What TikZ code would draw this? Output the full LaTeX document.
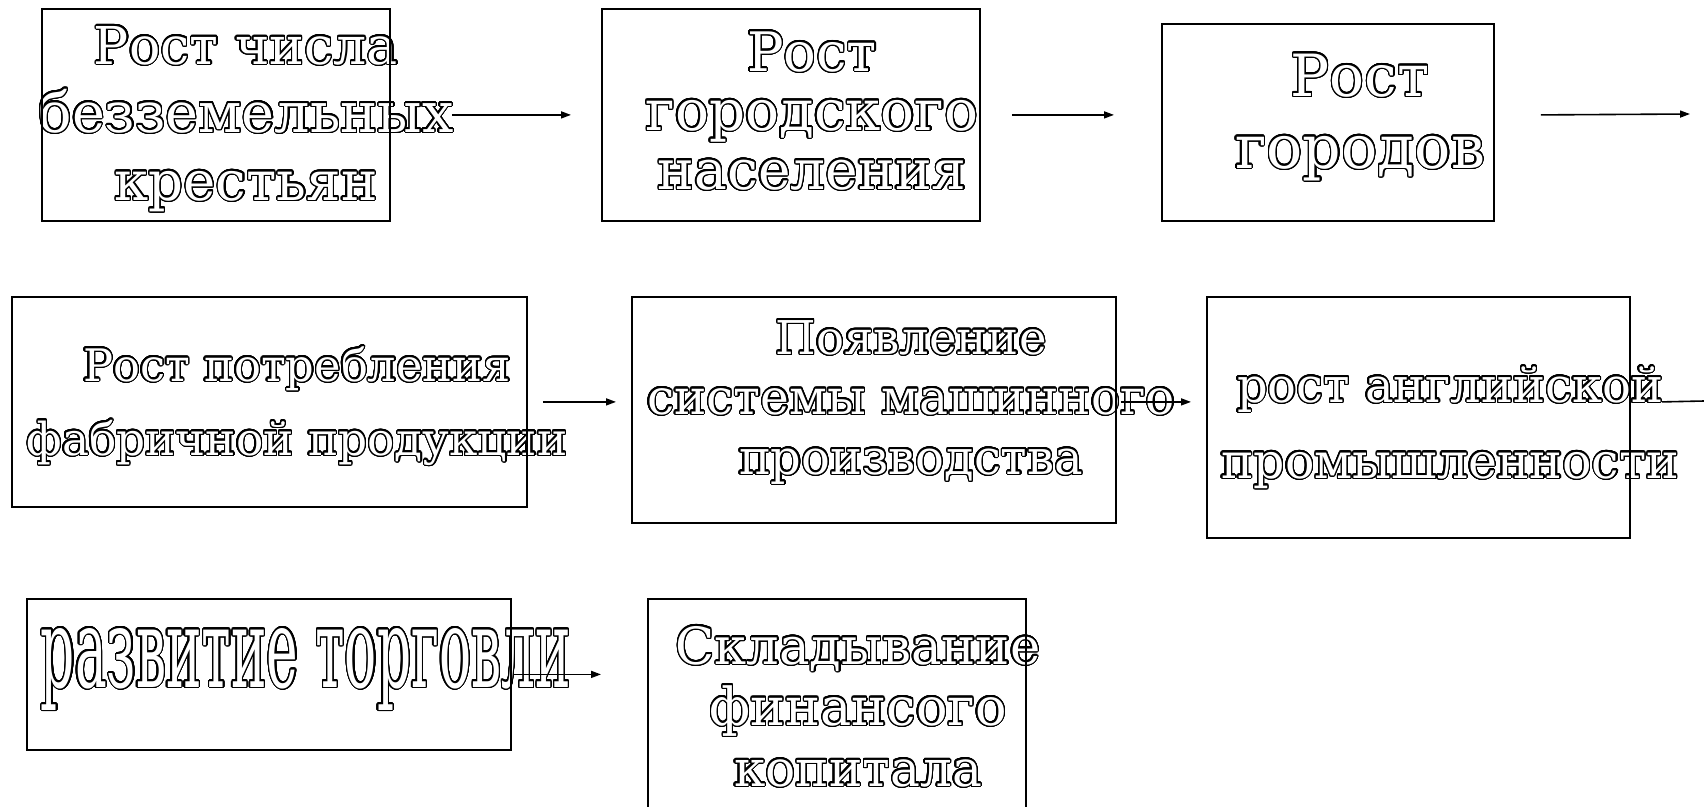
\documentclass[tikz,border=0pt]{standalone}
\usepackage{fontspec}
\setmainfont{DejaVu Serif}
\usepackage[copies]{contour}
\usepackage{graphicx}
\usetikzlibrary{arrows.meta}
\contourlength{1.3pt}
\contournumber{32}
\newcommand\olstack[2]{\vtop{\baselineskip=#1\lineskiplimit=-1000pt\lineskip=0pt\halign{\hfil##\hfil\cr#2\crcr}}}
\newcommand\olw[2]{\contour{black}{\resizebox{#1}{!}{#2}}}
\begin{document}
\begin{tikzpicture}[x=1pt,y=-1pt,
  box/.style={draw,line width=1.8pt,inner sep=0pt,anchor=north west},
  txt/.style={anchor=base,inner sep=0pt,text=white,font=\fontsize{48}{58}\selectfont},
  arr/.style={line width=1.6pt,-{Triangle[length=10pt,width=7pt]}},
  plain/.style={line width=1.6pt}]
\clip (0,0) rectangle (1704,806);
\fill[white] (0,0) rectangle (1704,806);
% texts
\node[txt] (t1) at (246,64) {\olstack{68pt}{\olw{304pt}{Рост числа}\cr\olw{415pt}{безземельных}\cr\olw{263pt}{крестьян}}};
\node[txt] (t2) at (812,71) {\olstack{59pt}{\olw{130pt}{Рост}\cr\olw{333pt}{городского}\cr\olw{309pt}{населения}}};
\node[txt] (t3) at (1360,96) {\olstack{72pt}{\olw{139pt}{Рост}\cr\olw{250pt}{городов}}};
\node[txt] (t4) at (297,381) {\olstack{74pt}{\olw{428pt}{Рост потребления}\cr\olw{541pt}{фабричной продукции}}};
\node[txt] (t5) at (911,354) {\olstack{60pt}{\olw{271pt}{Появление}\cr\olw{528pt}{системы машинного}\cr\olw{344pt}{производства}}};
\node[txt] (t6) at (1450,402) {\olstack{76pt}{\olw{426pt}{рост английской}\cr\olw{458pt}{промышленности}}};
\node[txt] (t7) at (306,687) {\contour{black}{\resizebox{530pt}{59pt}{развитие торговли}}};
\node[txt] (t8) at (858,664) {\olstack{61pt}{\olw{365pt}{Складывание}\cr\olw{297pt}{финансого}\cr\olw{248pt}{копитала}}};
% boxes
\node[box,minimum width=348pt,minimum height=212pt] (b1) at (41,8) {};
\node[box,minimum width=378pt,minimum height=212pt] (b2) at (601,8) {};
\node[box,minimum width=332pt,minimum height=197pt] (b3) at (1161,23) {};
\node[box,minimum width=515pt,minimum height=210pt] (b4) at (11,296) {};
\node[box,minimum width=484pt,minimum height=226pt] (b5) at (631,296) {};
\node[box,minimum width=423pt,minimum height=241pt] (b6) at (1206,296) {};
\node[box,minimum width=484pt,minimum height=151pt] (b7) at (26,598) {};
\node[box,minimum width=378pt,minimum height=240pt] (b8) at (647,598) {};
% helper coordinates
\coordinate (a2) at (b3.west |- b2.east);
\coordinate (a3) at (b3.east |- b2.east);
\coordinate (e3) at (1690,114);
\coordinate (a5) at (b5.west |- b4.east);
\coordinate (a5e) at (b5.east |- b4.east);
\coordinate (a6) at (b6.west |- b4.east);
\coordinate (a6e) at (b6.east |- b4.east);
\coordinate (e6) at (1704,401);
\coordinate (a8) at (b8.west |- b7.east);
% connectors
\draw[arr] ([xshift=61pt]b1.east) -- ([xshift=-30pt]b2.west);
\draw[arr] ([xshift=31pt]b2.east) -- ([xshift=-47pt]a2);
\draw[arr] ([xshift=46pt]a3) -- (e3);
\draw[arr] ([xshift=15pt]b4.east) -- ([xshift=-15pt]a5);
\draw[arr] ([xshift=4pt]a5e) -- ([xshift=-15pt]a6);
\draw[plain] ([xshift=31pt]a6e) -- (e6);
\draw[arr] ([xshift=1pt]b7.east) -- ([xshift=-46pt]a8);
\end{tikzpicture}
\end{document}
